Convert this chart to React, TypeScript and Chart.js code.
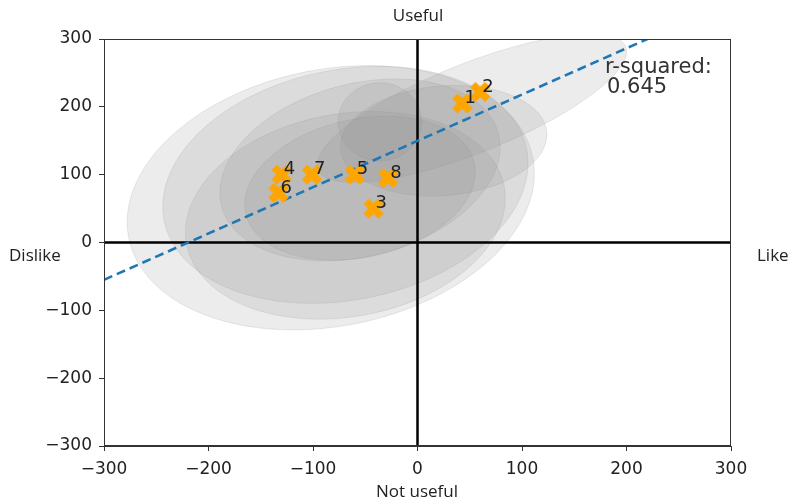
import React, { useEffect, useRef } from "react";
import { Chart, registerables } from "chart.js";

Chart.register(...registerables);

// ---- data ----
const pointLabels = ["1", "2", "3", "4", "5", "6", "7", "8"];
const pointX = [43, 60, -42, -130, -60, -133, -101, -28];
const pointY = [205, 222, 50, 100, 100, 73, 100, 95];

const regressionX = [-300, 220];
const regressionY = [-55, 300];
const rSquaredText = ["r-squared:", "0.645"];

// ellipses in data units: centre, full width/height, rotation (deg)
const ellipseCX = [-83, -69, -69, -55, 52, 25, -36, -55];
const ellipseCY = [66, 85, 40, 107, 198, 150, 178, 80];
const ellipseW = [424, 380, 330, 300, 348, 200, 80, 240];
const ellipseH = [352, 316, 280, 232, 120, 160, 115, 190];
const ellipseAngle = [45, 45, 45, 45, 34, 15, 0, 40];

const axisTicks = [-300, -200, -100, 0, 100, 200, 300];
const axisMin = -300;
const axisMax = 300;

const labelTop = "Useful";
const labelBottom = "Not useful";
const labelLeft = "Dislike";
const labelRight = "Like";

function makeMarker(): HTMLCanvasElement {
  const c = document.createElement("canvas");
  c.width = 24;
  c.height = 24;
  const ctx = c.getContext("2d")!;
  ctx.translate(12, 12);
  ctx.rotate(Math.PI / 4);
  ctx.fillStyle = "#FFA500";
  ctx.fillRect(-10.5, -3.8, 21, 7.6);
  ctx.fillRect(-3.8, -10.5, 7.6, 21);
  return c;
}

const fmt = (v: number) => (v < 0 ? "\u2212" + Math.abs(v) : String(v));

export default function App() {
  const ref = useRef<HTMLCanvasElement | null>(null);

  useEffect(() => {
    const canvas = ref.current!;
    const marker = makeMarker();

    const backgroundPlugin = {
      id: "bgStuff",
      beforeDatasetsDraw(chart: any) {
        const { ctx, chartArea: a, scales } = chart;
        const xs = scales.x;
        const ys = scales.y;
        ctx.save();
        ctx.beginPath();
        ctx.rect(a.left, a.top, a.right - a.left, a.bottom - a.top);
        ctx.clip();
        for (let i = 0; i < ellipseCX.length; i++) {
          const th = (ellipseAngle[i] * Math.PI) / 180;
          const ra = ellipseW[i] / 2;
          const rb = ellipseH[i] / 2;
          ctx.beginPath();
          for (let k = 0; k <= 120; k++) {
            const t = (k / 120) * Math.PI * 2;
            const dx = ra * Math.cos(t);
            const dy = rb * Math.sin(t);
            const vx = ellipseCX[i] + dx * Math.cos(th) - dy * Math.sin(th);
            const vy = ellipseCY[i] + dx * Math.sin(th) + dy * Math.cos(th);
            const px = xs.getPixelForValue(vx);
            const py = ys.getPixelForValue(vy);
            if (k === 0) ctx.moveTo(px, py);
            else ctx.lineTo(px, py);
          }
          ctx.closePath();
          ctx.fillStyle = "rgba(140,140,140,0.17)";
          ctx.fill();
          ctx.strokeStyle = "rgba(140,140,140,0.18)";
          ctx.lineWidth = 1;
          ctx.stroke();
        }
        // zero lines
        ctx.strokeStyle = "#000";
        ctx.lineWidth = 2.5;
        const x0 = xs.getPixelForValue(0);
        const y0 = ys.getPixelForValue(0);
        ctx.beginPath();
        ctx.moveTo(x0, a.top);
        ctx.lineTo(x0, a.bottom);
        ctx.moveTo(a.left, y0);
        ctx.lineTo(a.right, y0);
        ctx.stroke();
        ctx.restore();
      },
      afterDatasetsDraw(chart: any) {
        const { ctx, chartArea: a, scales } = chart;
        const xs = scales.x;
        const ys = scales.y;
        ctx.save();
        // frame
        ctx.strokeStyle = "#333";
        ctx.lineWidth = 1;
        ctx.strokeRect(a.left + 0.5, a.top + 0.5, a.right - a.left - 1, a.bottom - a.top - 1);
        // point labels
        ctx.fillStyle = "#222";
        ctx.font = "18px 'DejaVu Sans'";
        ctx.textAlign = "left";
        ctx.textBaseline = "bottom";
        for (let i = 0; i < pointLabels.length; i++) {
          const px = xs.getPixelForValue(pointX[i]);
          const py = ys.getPixelForValue(pointY[i]);
          ctx.fillText(pointLabels[i], px + 2, py + 4);
        }
        // r-squared
        ctx.font = "21px 'DejaVu Sans'";
        ctx.fillStyle = "#333";
        ctx.textBaseline = "alphabetic";
        ctx.fillText(rSquaredText[0], 605, 73);
        ctx.fillText(rSquaredText[1], 607, 93);
        ctx.restore();
      },
      afterDraw(chart: any) {
        const { ctx } = chart;
        ctx.save();
        ctx.fillStyle = "#222";
        ctx.font = "17px 'Open Sans'";
        ctx.textBaseline = "middle";
        ctx.textAlign = "center";
        ctx.fillText(labelTop, 418, 16);
        ctx.fillText(labelBottom, 417, 492);
        ctx.textAlign = "left";
        ctx.fillText(labelLeft, 9, 256);
        ctx.fillText(labelRight, 757, 256);
        ctx.restore();
      },
    };

    const tickFont = { family: "'DejaVu Sans'", size: 17 };
    const makeScale = (pad: number) => ({
      type: "linear" as const,
      min: axisMin,
      max: axisMax,
      afterBuildTicks: (s: any) => {
        s.ticks = axisTicks.map((v) => ({ value: v }));
      },
      ticks: {
        font: tickFont,
        color: "#222",
        padding: pad,
        callback: (v: any) => fmt(Number(v)),
      },
      grid: {
        drawOnChartArea: false,
        drawTicks: true,
        tickLength: 5,
        color: "#333",
        tickColor: "#333",
      },
      border: { display: true, color: "#333", width: 1 },
    });

    const chart = new Chart(canvas, {
      type: "scatter",
      data: {
        datasets: [
          {
            label: "line",
            type: "line" as any,
            data: regressionX.map((x, i) => ({ x, y: regressionY[i] })),
            borderColor: "#1f77b4",
            borderWidth: 2.6,
            borderDash: [9, 5],
            pointRadius: 0,
            fill: false,
            order: 2,
          } as any,
          {
            label: "points",
            data: pointX.map((x, i) => ({ x, y: pointY[i] })),
            pointStyle: marker as any,
            pointRadius: 10,
            order: 1,
          } as any,
        ],
      },
      options: {
        responsive: false,
        animation: false,
        devicePixelRatio: 1,
        layout: { padding: { top: 39, right: 65, left: 0, bottom: 0 } },
        plugins: {
          legend: { display: false },
          tooltip: { enabled: false },
        },
        scales: {
          x: {
            ...makeScale(8),
            position: "bottom",
            afterFit: (s: any) => {
              s.height = 57;
            },
          },
          y: {
            ...makeScale(7),
            position: "left",
            afterFit: (s: any) => {
              s.width = 104;
            },
          },
        } as any,
      },
      plugins: [backgroundPlugin],
    });

    return () => chart.destroy();
  }, []);

  return (
    <div style={{ position: "fixed", left: 0, top: 0, width: 796, height: 503, background: "#fff" }}>
      <canvas ref={ref} width={796} height={503} />
    </div>
  );
}
